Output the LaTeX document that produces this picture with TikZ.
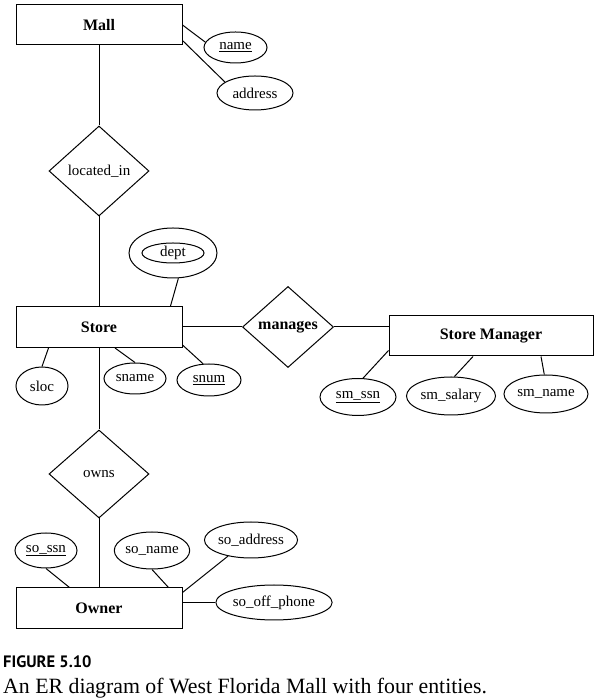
\documentclass[tikz,border=0pt]{standalone}
\usepackage{fontspec}
\setmainfont{Liberation Serif}
\newfontfamily\capfont{PT Sans}
\usepackage{tikz}
\usetikzlibrary{arrows,shapes,positioning,calc}
\tikzstyle{entity} = [rectangle, draw, line width=1pt, inner sep=0pt, minimum width=166pt, minimum height=41pt, font=\fontsize{16}{18}\selectfont\bfseries]
\tikzstyle{relation} = [diamond, draw, line width=1pt, inner sep=0pt, aspect=1.1, font=\fontsize{15}{18}\selectfont]
\tikzstyle{attr} = [ellipse, draw, line width=1pt, inner sep=0pt, minimum width=64pt, minimum height=33pt, font=\fontsize{15}{18}\selectfont]
\tikzstyle{link} = [line width=1pt]

\begin{document}
\begin{tikzpicture}[x=1pt, y=1pt]
    \useasboundingbox (0,0) rectangle (597,698);

    % Mall
    \node[entity, minimum height=40pt] (mall) at (99, 673) {Mall};
    \node[attr, minimum width=63pt, minimum height=31pt] (name) at (235.5, 650.5) {\underline{name}};
    \node[attr, minimum width=76pt, minimum height=34pt] (address) at (255, 605) {address};

    % located_in
    \node[relation, minimum width=100pt, minimum height=90pt] (locin) at (99, 527) {located\_in};

    % Store
    \node[entity] (store) at (99, 371) {Store};
    \node[attr, minimum width=88pt, minimum height=50pt] (dept) at (173, 445) {};
    \node[attr, minimum width=62pt, minimum height=20pt] (deptin) at (dept.center) {dept};
    \node[attr, minimum width=52pt, minimum height=38pt] (sloc) at (42, 312) {sloc};
    \node[attr, minimum width=62pt, minimum height=31pt] (sname) at (135, 319.5) {sname};
    \node[attr, minimum width=64pt, minimum height=32pt] (snum) at (209, 318) {\underline{snum}};

    % manages
    \node[relation, font=\fontsize{16}{18}\selectfont\bfseries, minimum width=91pt, minimum height=81pt] (manages) at (288, 371) {manages};

    % Store Manager
    \node[entity, minimum width=204pt, minimum height=40pt] (sm) at (491, 362) {Store Manager};
    \node[attr, minimum width=76pt, minimum height=37pt] (smssn) at (358, 301) {\underline{sm\_ssn}};
    \node[attr, minimum width=89pt, minimum height=38pt] (smsalary) at (451, 302) {sm\_salary};
    \node[attr, minimum width=84pt, minimum height=38pt] (smname) at (546, 304) {sm\_name};

    % owns
    \node[relation, minimum width=100pt, minimum height=88pt] (owns) at (99, 224) {owns};

    % Owner
    \node[entity] (owner) at (99, 89.5) {Owner};
    \node[attr, minimum width=62pt, minimum height=35pt] (sossn) at (46, 147.5) {\underline{so\_ssn}};
    \node[attr, minimum width=75pt, minimum height=37pt] (soname) at (152, 147.5) {so\_name};
    \node[attr, minimum width=89pt, minimum height=36pt] (soaddress) at (251, 158) {so\_address};
    \node[attr, minimum width=100pt, minimum height=35pt] (sooff) at (274, 95.5) {so\_off\_phone};

    % Links
    \draw[link] (mall.east) -- (name.170);
    \draw[link] ($(mall.south east)+(0,5)$) -- (address.160);
    \draw[link] (mall.south) -- (locin.north);
    \draw[link] (locin.south) -- (store.north);
    \draw[link] (dept.-78) -- ($(store.north east)+(-12,0)$);
    \draw[link] ($(store.south west)+(33,0)$) -- (sloc.north);
    \draw[link] ($(store.south)+(16,0)$) -- (sname.north);
    \draw[link] ($(store.south east)+(0,3)$) -- (snum.110);
    \draw[link] (store.east) -- (manages.west);
    \draw[link] (manages.east) -- (manages.east -| sm.west);
    \draw[link] ($(sm.south west)+(0,6)$) -- (smssn.75);
    \draw[link] ($(sm.south)+(-18,0)$) -- (smsalary.80);
    \draw[link] ($(sm.south)+(50,0)$) -- (smname.95);
    \draw[link] (store.south) -- (owns.north);
    \draw[link] (owns.south) -- (owner.north);
    \draw[link] (sossn.south) -- ($(owner.north west)+(54,0)$);
    \draw[link] (soname.south) -- ($(owner.north east)+(-14,0)$);
    \draw[link] (soaddress.-145) -- ($(owner.north east)+(0,-5)$);
    \draw[link] (sooff.west -| owner.east) -- (sooff.west);

    % Caption
    \node[anchor=base west, inner sep=0pt, font=\capfont\fontsize{16.5}{20}\selectfont\bfseries] (figno) at (3, 30) {FIGURE 5.10};
    \node[anchor=base west, inner sep=0pt, font=\fontsize{21.8}{24}\selectfont] (figcap) at (3, 5) {An ER diagram of West Florida Mall with four entities.};
\end{tikzpicture}
\end{document}
